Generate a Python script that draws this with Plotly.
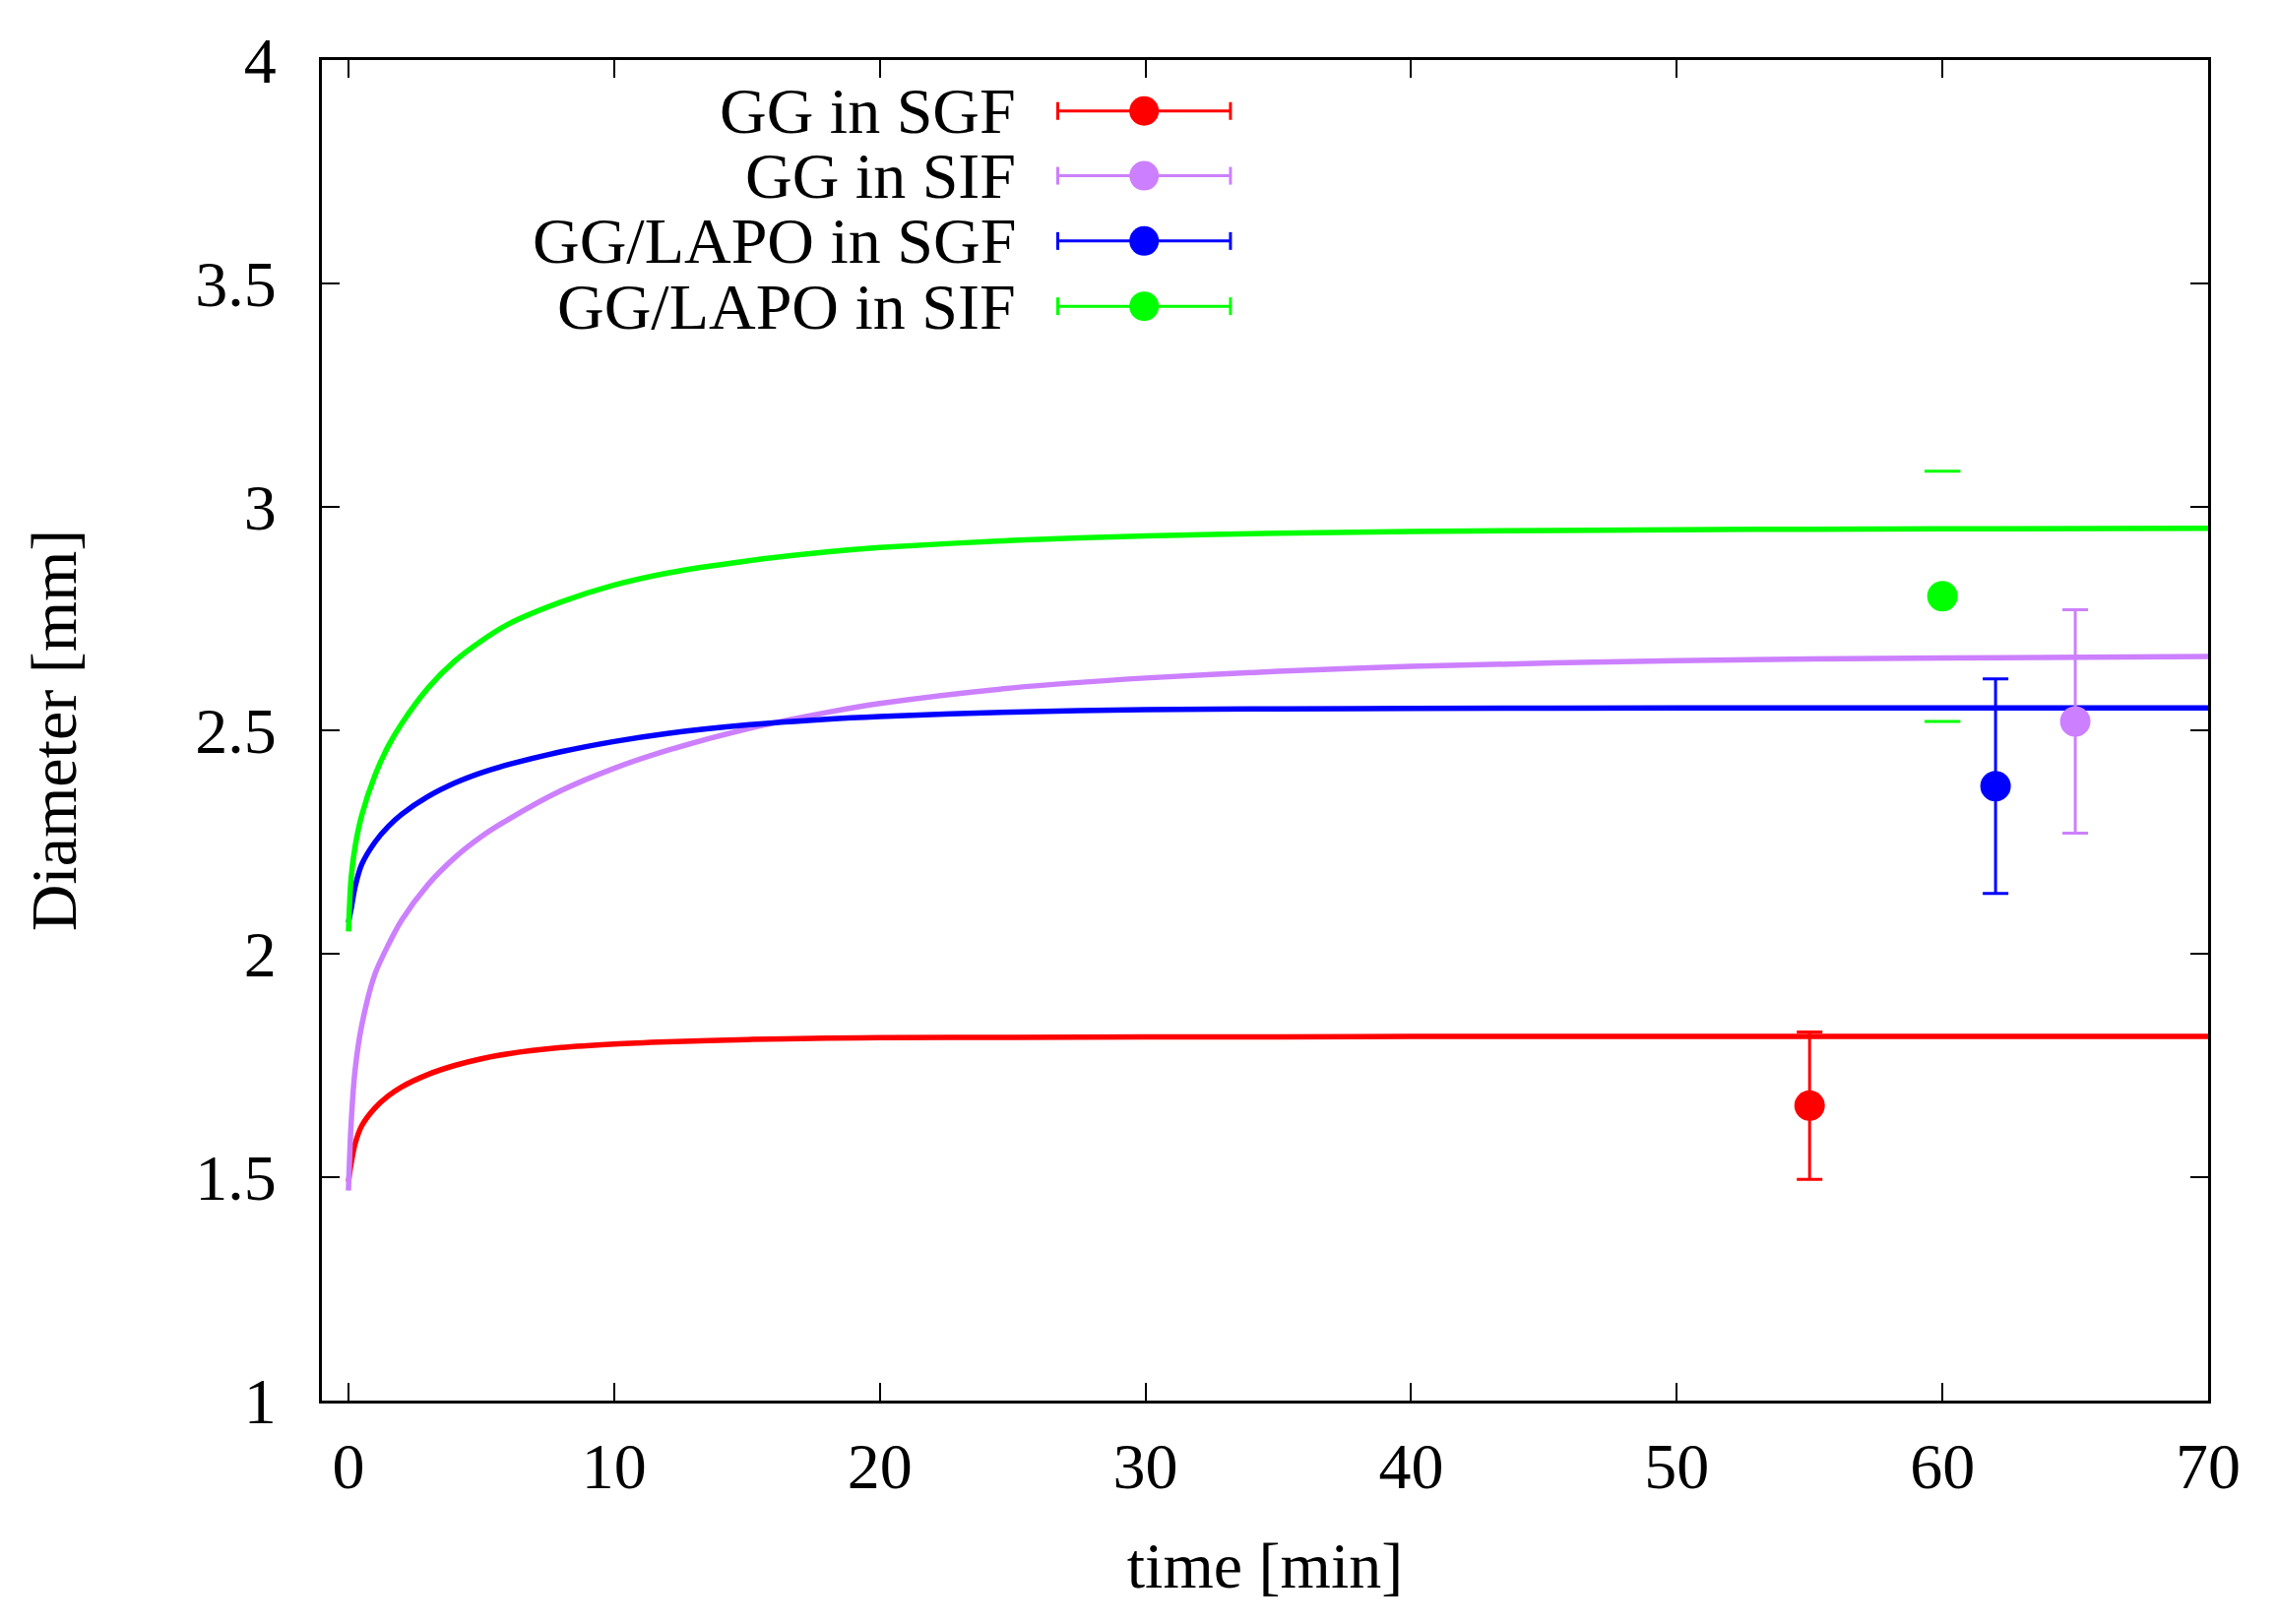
import plotly.graph_objects as go

# ---- data ----
t_model = [0, 0.1, 0.25, 0.5, 1, 1.5, 2, 3, 4, 5, 6, 8, 10, 12, 15, 18, 20, 25, 30, 35, 40, 50, 60, 70]
gg_sgf_model = [1.49, 1.53, 1.575, 1.615, 1.655, 1.682, 1.702, 1.73, 1.75, 1.765, 1.776, 1.79, 1.798, 1.803,
                1.808, 1.811, 1.812, 1.813, 1.814, 1.814, 1.815, 1.815, 1.815, 1.815]
gg_sif_model = [1.47, 1.62, 1.74, 1.84, 1.955, 2.02, 2.075, 2.155, 2.215, 2.262, 2.30, 2.365, 2.415, 2.455,
                2.503, 2.54, 2.56, 2.595, 2.617, 2.632, 2.643, 2.656, 2.662, 2.665]
lapo_sgf_model = [2.07, 2.10, 2.15, 2.20, 2.25, 2.285, 2.312, 2.352, 2.382, 2.405, 2.423, 2.452, 2.475, 2.493,
                  2.512, 2.525, 2.531, 2.541, 2.546, 2.548, 2.549, 2.55, 2.55, 2.55]
lapo_sif_model = [2.05, 2.17, 2.24, 2.31, 2.40, 2.465, 2.515, 2.595, 2.655, 2.70, 2.737, 2.787, 2.825, 2.852,
                  2.879, 2.899, 2.909, 2.925, 2.935, 2.941, 2.945, 2.949, 2.951, 2.952]

series_names = ["GG in SGF", "GG in SIF", "GG/LAPO in SGF", "GG/LAPO in SIF"]
series_colors = ["#ff0000", "#cc80ff", "#0000ff", "#00ff00"]
exp_time = [55, 65, 62, 60]
exp_diam = [1.66, 2.52, 2.375, 2.80]
exp_err = [0.165, 0.25, 0.24, 0.28]

x_ticks = [0, 10, 20, 30, 40, 50, 60, 70]
y_ticks = [1, 1.5, 2, 2.5, 3, 3.5, 4]

models = [gg_sgf_model, gg_sif_model, lapo_sgf_model, lapo_sif_model]

FONT = "Liberation Serif"
FS = 66

fig = go.Figure()

for i in range(4):
    fig.add_trace(go.Scatter(
        x=t_model, y=models[i], mode="lines",
        line=dict(color=series_colors[i], width=5.5, shape="spline", smoothing=0.8),
        showlegend=False, hoverinfo="skip"))

for i in range(4):
    if i == 3:
        # stem of this error bar is practically invisible in the reference: draw caps only
        fig.add_trace(go.Scatter(
            x=[exp_time[i], exp_time[i]],
            y=[exp_diam[i] - exp_err[i], exp_diam[i] + exp_err[i]],
            mode="markers",
            marker=dict(symbol="line-ew", size=26, line=dict(color=series_colors[i], width=3)),
            showlegend=False, hoverinfo="skip"))
        fig.add_trace(go.Scatter(
            x=[exp_time[i]], y=[exp_diam[i]], mode="markers",
            marker=dict(color=series_colors[i], size=31, symbol="circle"),
            showlegend=False))
    else:
        fig.add_trace(go.Scatter(
            x=[exp_time[i]], y=[exp_diam[i]], mode="markers",
            marker=dict(color=series_colors[i], size=31, symbol="circle"),
            error_y=dict(type="data", array=[exp_err[i]], visible=True,
                         color=series_colors[i], thickness=3, width=13),
            showlegend=False))

# ---- gnuplot-style key (text left, sample on the right) ----
key_rows = [3.886, 3.741, 3.595, 3.449]
key_text_x = 25.2
key_x0, key_x1, key_xm = 26.7, 33.2, 29.95
shapes = []
annotations = []
for i in range(4):
    yk = key_rows[i]
    c = series_colors[i]
    annotations.append(dict(x=key_text_x, y=yk, xref="x", yref="y", text=series_names[i],
                            showarrow=False, xanchor="right", yanchor="middle",
                            font=dict(family=FONT, size=FS, color="black")))
    shapes.append(dict(type="line", xref="x", yref="y", x0=key_x0, x1=key_x1, y0=yk, y1=yk,
                       line=dict(color=c, width=3)))
    for xe in (key_x0, key_x1):
        shapes.append(dict(type="line", xref="x", yref="y", xsizemode="scaled", ysizemode="pixel",
                           yanchor=yk, x0=xe, x1=xe, y0=-9, y1=9, line=dict(color=c, width=3)))
    shapes.append(dict(type="circle", xref="x", yref="y", xsizemode="pixel", ysizemode="pixel",
                       xanchor=key_xm, yanchor=yk, x0=-15, x1=15, y0=-15, y1=15,
                       fillcolor=c, line=dict(color=c, width=0)))

fig.update_layout(
    width=2313, height=1650,
    margin=dict(l=319, r=78, t=53, b=235),
    paper_bgcolor="white", plot_bgcolor="white",
    font=dict(family=FONT, size=FS, color="black"),
    shapes=shapes, annotations=annotations,
    showlegend=False,
)
fig.update_xaxes(
    range=[-1, 70], tickvals=x_ticks, ticktext=[str(v) for v in x_ticks],
    ticks="inside", ticklen=18, tickwidth=2, tickcolor="black",
    showline=True, linecolor="black", linewidth=3, mirror="ticks",
    showgrid=False, zeroline=False, ticklabelstandoff=7,
    tickfont=dict(family=FONT, size=FS),
    title=dict(text="time [min]", font=dict(family=FONT, size=FS), standoff=42),
)
fig.update_yaxes(
    range=[1, 4], tickvals=y_ticks, ticktext=[("%g" % v) for v in y_ticks],
    ticks="inside", ticklen=18, tickwidth=2, tickcolor="black",
    showline=True, linecolor="black", linewidth=3, mirror="ticks",
    showgrid=False, zeroline=False, ticklabelstandoff=30,
    tickfont=dict(family=FONT, size=FS),
    title=dict(text="Diameter [mm]", font=dict(family=FONT, size=FS), standoff=100),
)

fig.write_html("out.html")
